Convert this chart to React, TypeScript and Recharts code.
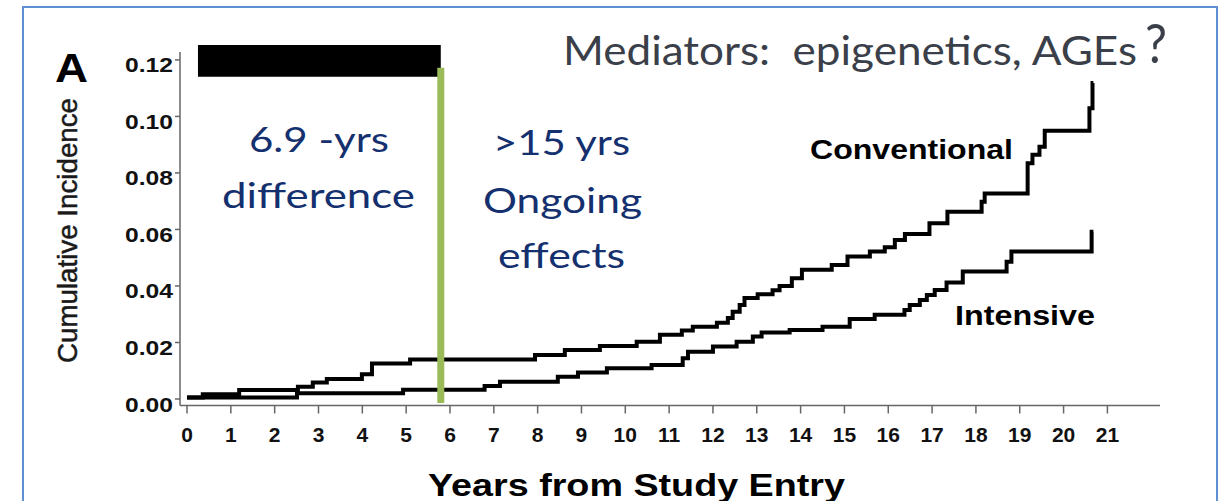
import { LineChart, Line, XAxis, YAxis, ReferenceLine, ReferenceArea } from 'recharts';

const YEAR_TICKS = [0, 1, 2, 3, 4, 5, 6, 7, 8, 9, 10, 11, 12, 13, 14, 15, 16, 17, 18, 19, 20, 21];
const INCIDENCE_TICKS = [0, 0.02, 0.04, 0.06, 0.08, 0.1, 0.12];

// Conventional therapy: step times (years) and cumulative incidence
const CONVENTIONAL_YEARS = [
  0, 0.36, 1.19, 2.53, 2.87, 3.19, 3.99, 4.22, 5.09, 7.94, 8.62, 9.42, 10.26, 10.79, 11.29,
  11.54, 12.09, 12.34, 12.45, 12.61, 12.72, 13.02, 13.36, 13.52, 13.8, 14.03, 14.71, 15.07,
  15.58, 15.92, 16.15, 16.38, 16.94, 17.35, 18.13, 18.2, 19.18, 19.29, 19.45, 19.57, 20.59,
  20.66, 20.68,
];
const CONVENTIONAL_INCIDENCE = [
  0.0005, 0.0017, 0.0032, 0.0043, 0.0058, 0.0071, 0.0088, 0.0126, 0.014, 0.0156, 0.0173,
  0.0188, 0.0203, 0.0227, 0.0242, 0.0256, 0.027, 0.0287, 0.0309, 0.0333, 0.0357, 0.0371,
  0.0385, 0.04, 0.0427, 0.0457, 0.0474, 0.0504, 0.0522, 0.0537, 0.0563, 0.0584, 0.0622,
  0.0663, 0.0698, 0.0727, 0.0834, 0.0864, 0.0893, 0.0949, 0.1029, 0.1118, 0.1118,
];

// Intensive therapy
const INTENSIVE_YEARS = [
  0, 2.51, 4.93, 6.79, 7.14, 8.46, 8.92, 9.58, 10.6, 11.31, 11.43, 12.0, 12.54, 12.91, 13.11,
  13.75, 14.5, 15.12, 15.69, 16.37, 16.49, 16.72, 16.88, 17.06, 17.33, 17.7, 18.7, 18.81,
  20.64, 20.68,
];
const INTENSIVE_INCIDENCE = [
  0.0005, 0.002, 0.0033, 0.0046, 0.0061, 0.0079, 0.0094, 0.0109, 0.012, 0.0144, 0.0167,
  0.0186, 0.0203, 0.0221, 0.0235, 0.0244, 0.0256, 0.0283, 0.0298, 0.0315, 0.0333, 0.035,
  0.0368, 0.0386, 0.0412, 0.0451, 0.0486, 0.0522, 0.0592, 0.0592,
];

const conventional = CONVENTIONAL_YEARS.map((t, i) => ({ t, v: CONVENTIONAL_INCIDENCE[i] }));
const intensive = INTENSIVE_YEARS.map((t, i) => ({ t, v: INTENSIVE_INCIDENCE[i] }));

const ARIAL = "'Liberation Sans', Arial, sans-serif";
const CALIBRI = "Lato, 'Open Sans', sans-serif";
const NAVY = '#14306e';

function YearTick({ x, y, payload }: any) {
  return (
    <text x={x} y={y + 26} textAnchor="middle" fontFamily={ARIAL} fontWeight="bold" fontSize={21} fill="#111">
      {payload.value}
    </text>
  );
}

function IncidenceTick({ x, y, payload }: any) {
  return (
    <text
      x={x}
      y={y + 12.5}
      textAnchor="end"
      fontFamily={ARIAL}
      fontWeight="bold"
      fontSize={20}
      fill="#111"
      textLength={48}
      lengthAdjust="spacingAndGlyphs"
    >
      {Number(payload.value).toFixed(2)}
    </text>
  );
}

export default function App() {
  return (
    <div style={{ position: 'absolute', left: 0, top: 0, width: 1228, height: 501, overflow: 'hidden', background: '#fff' }}>
      <div
        style={{
          position: 'absolute',
          left: 22,
          top: 6,
          width: 1196,
          height: 560,
          border: '2px solid #5e8fd3',
          boxSizing: 'border-box',
        }}
      />
      <LineChart width={1228} height={501} margin={{ top: 52, right: 68, bottom: 65.5, left: 100 }}>
        <XAxis
          type="number"
          dataKey="t"
          domain={[-0.16, 22.2]}
          ticks={YEAR_TICKS}
          allowDataOverflow
          height={30}
          tickSize={8}
          tick={<YearTick />}
          stroke="#666"
          strokeWidth={1.5}
        />
        <YAxis
          type="number"
          domain={[-0.0023, 0.1228]}
          ticks={INCIDENCE_TICKS}
          allowDataOverflow
          width={80}
          tickSize={5}
          tick={<IncidenceTick />}
          stroke="#666"
          strokeWidth={1.5}
        />
        <ReferenceArea x1={0.25} x2={5.79} y1={0.114} y2={0.1253} fill="#000" fillOpacity={1} ifOverflow="visible" />
        <Line
          data={conventional}
          dataKey="v"
          type="stepAfter"
          stroke="#000"
          strokeWidth={4}
          dot={false}
          isAnimationActive={false}
        />
        <Line
          data={intensive}
          dataKey="v"
          type="stepAfter"
          stroke="#000"
          strokeWidth={4}
          dot={false}
          isAnimationActive={false}
        />
        <ReferenceLine
          segment={[{ x: 5.79, y: -0.0014 }, { x: 5.79, y: 0.1172 }]}
          stroke="#9bbb59"
          strokeWidth={7}
          ifOverflow="visible"
        />
      </LineChart>
      <svg width={1228} height={501} style={{ position: 'absolute', left: 0, top: 0, pointerEvents: 'none' }}>
        <text x={55} y={82} fontFamily={ARIAL} fontWeight="bold" fontSize={40} fill="#000" textLength={33} lengthAdjust="spacingAndGlyphs">
          A
        </text>
        <text
          x={77}
          y={230.5}
          transform="rotate(-90 77 230.5)"
          textAnchor="middle"
          fontFamily={ARIAL}
          fontSize={28}
          fill="#1a1a1a"
          stroke="#1a1a1a"
          strokeWidth={0.5}
          textLength={265}
          lengthAdjust="spacingAndGlyphs"
        >
          Cumulative Incidence
        </text>
        <text x={428} y={496} fontFamily={ARIAL} fontWeight="bold" fontSize={32} fill="#000" textLength={417} lengthAdjust="spacingAndGlyphs">
          Years from Study Entry
        </text>
        <text x={810} y={159} fontFamily={ARIAL} fontWeight="bold" fontSize={28} fill="#000" textLength={203} lengthAdjust="spacingAndGlyphs">
          Conventional
        </text>
        <text x={955} y={325} fontFamily={ARIAL} fontWeight="bold" fontSize={28} fill="#000" textLength={140} lengthAdjust="spacingAndGlyphs">
          Intensive
        </text>
        <text x={563} y={65} fontFamily={CALIBRI} fontSize={40} fill="#3a3f4a" textLength={574} lengthAdjust="spacingAndGlyphs" style={{ whiteSpace: 'pre' }}>
          {'Mediators:  epigenetics, AGEs'}
        </text>
        <text x={1145} y={63} fontFamily={CALIBRI} fontSize={54} fill="#3a3f4a" textLength={22} lengthAdjust="spacingAndGlyphs">
          ?
        </text>
        <text x={249} y={152} fontFamily={CALIBRI} fontSize={35} fill={NAVY} textLength={140} lengthAdjust="spacingAndGlyphs">
          6.9 -yrs
        </text>
        <text x={222} y={208} fontFamily={CALIBRI} fontSize={35} fill={NAVY} textLength={193} lengthAdjust="spacingAndGlyphs">
          difference
        </text>
        <text x={493} y={155} fontFamily={CALIBRI} fontSize={35} fill={NAVY} textLength={137} lengthAdjust="spacingAndGlyphs">
          {'>15 yrs'}
        </text>
        <text x={483} y={213} fontFamily={CALIBRI} fontSize={35} fill={NAVY} textLength={159} lengthAdjust="spacingAndGlyphs">
          Ongoing
        </text>
        <text x={498} y={268} fontFamily={CALIBRI} fontSize={35} fill={NAVY} textLength={127} lengthAdjust="spacingAndGlyphs">
          effects
        </text>
      </svg>
    </div>
  );
}
